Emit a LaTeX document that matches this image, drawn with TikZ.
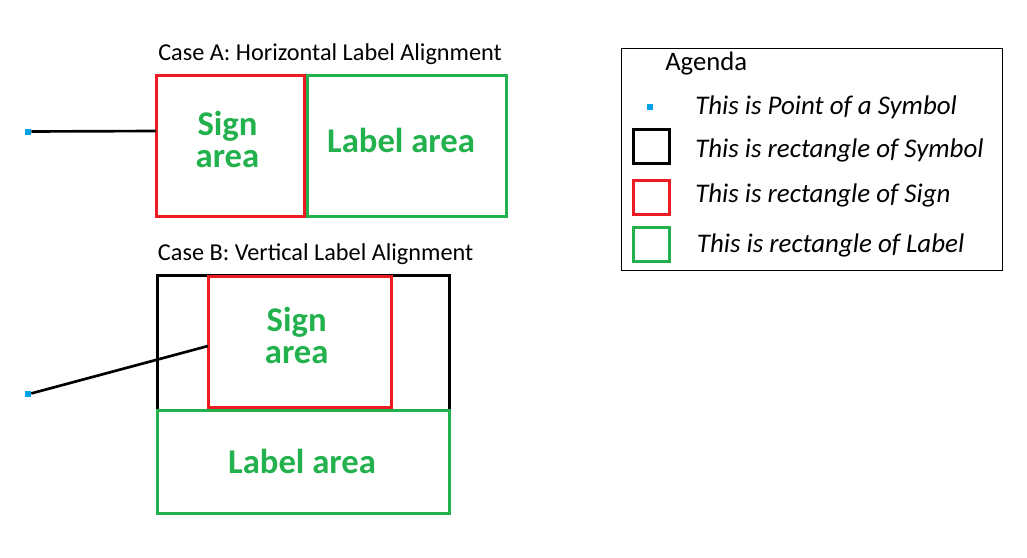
\documentclass[tikz,border=0pt]{standalone}
\usepackage{fontspec}
\setmainfont{Carlito}
\usepackage{xcolor}
\usepackage{tikz}
\definecolor{paintred}{RGB}{237,28,36}
\definecolor{paintgreen}{RGB}{34,177,76}
\definecolor{paintblue}{RGB}{0,162,232}
\tikzset{
	signrect/.style={draw=paintred, line width=2.25pt},
	labelrect/.style={draw=paintgreen, line width=2.25pt},
	symbolrect/.style={draw=black, line width=2.25pt},
	symbolpt/.style={fill=paintblue, inner sep=0pt, minimum size=4.5pt},
	areatext/.style={text=paintgreen, font=\fontsize{26}{24}\selectfont\bfseries, align=center, anchor=base},
	casetext/.style={font=\fontsize{18.2}{21}\selectfont, anchor=base west, inner sep=0pt},
	agendatext/.style={font=\fontsize{20.2}{23}\selectfont\itshape, anchor=base west, inner sep=0pt}
}

\begin{document}
\begin{tikzpicture}[x=0.75pt,y=-0.75pt]
						\useasboundingbox (0,0) rectangle (1027,557);
						
						% Case A
						\coordinate (SA1) at (156,75);
						\coordinate (SA2) at (304.5,216.5);
						\coordinate (LA1) at (307.5,75);
						\coordinate (LA2) at (506,216.5);
						\coordinate (EA) at (156,131);
						
						\draw[signrect] (SA1) rectangle (SA2);
						\draw[labelrect] (LA1) rectangle (LA2);
						\node[symbolpt] (PA) at (28,131.5) {};
						\draw[line width=2pt] (PA) - - (EA);
						
						\node[casetext] (caseA) at (158,60.3) {Case A: Horizontal Label Alignment};
						\node[areatext] (signA) at (227.5,167) {Sign\\area};
						\node[areatext] (labelA) at (401,152) {Label area};
						
						% Case B
						\coordinate (YB1) at (157.3,275.3);
						\coordinate (YB2) at (449.7,410.7);
						\coordinate (SB1) at (208,276.5);
						\coordinate (SB2) at (391.3,407);
						\coordinate (LB1) at (157.3,410.7);
						\coordinate (LB2) at (449.7,513.3);
						\coordinate (EB) at (208,346);
						
						\draw[symbolrect] (YB1) rectangle (YB2);
						\draw[signrect] (SB1) rectangle (SB2);
						\draw[labelrect] (LB1) rectangle (LB2);
						\node[symbolpt] (PB) at (28,394.3) {};
						\draw[line width=2pt] (PB) - - (EB);
						
						\node[casetext] (caseB) at (157.7,260.3) {Case B: Vertical Label Alignment};
						\node[areatext] (signB) at (296.7,363.3) {Sign\\area};
						\node[areatext] (labelB) at (302,473.3) {Label area};
						
						% Agenda
						\draw[line width=0.75pt] (621.7,48.7) rectangle (1002.3,270.7);
						\node[casetext, font=\fontsize{20}{23}\selectfont] (agenda) at (665,70.3) {Agenda};
						
						\node[symbolpt] (PL) at (650,106.7) {};
						\draw[symbolrect] (633.5,129.5) rectangle (669,163.5);
						\draw[signrect] (633.5,180.5) rectangle (669,214.5);
						\draw[labelrect] (633.5,227.5) rectangle (669,261.5);
						
						\node[agendatext] (txtP) at (695,114.7) {This is Point of a Symbol};
						\node[agendatext] (txtY) at (695,157) {This is rectangle of Symbol};
						\node[agendatext] (txtS) at (695,202) {This is rectangle of Sign};
						\node[agendatext] (txtL) at (696.7,252.7) {This is rectangle of Label};
					\end{tikzpicture}
\end{document}
